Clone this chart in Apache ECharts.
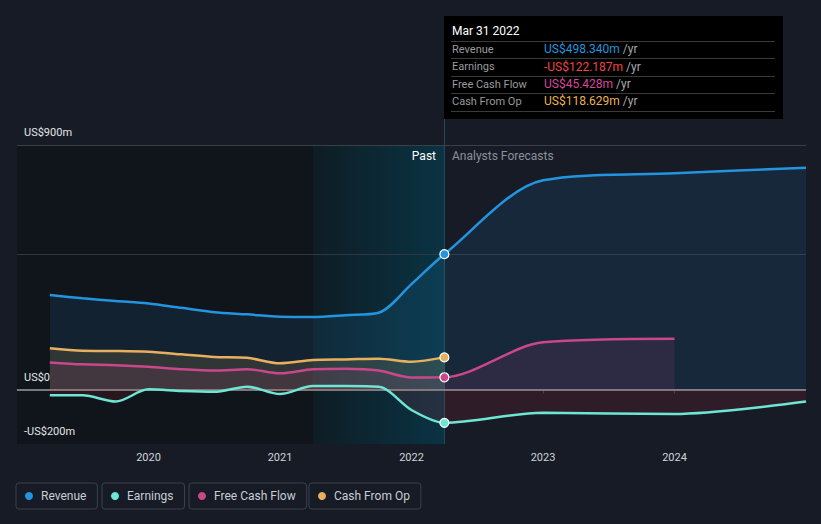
<!DOCTYPE html>
<html><head><meta charset="utf-8">
<script src="https://cdn.jsdelivr.net/npm/echarts@6/dist/echarts.min.js"></script>
<style>html,body{margin:0;padding:0;background:#161b26;}#c{width:821px;height:524px;}</style>
</head><body><div id="c"></div>
<script>
// ---- data (US$ millions, x in decimal years) ----
const pastDates      = [2019.25, 2019.5, 2019.75, 2020.0, 2020.25, 2020.5, 2020.75, 2021.0, 2021.25, 2021.5, 2021.75, 2022.0, 2022.25];
const revenuePast    = [348, 336, 326, 317, 301, 285, 277, 268, 267, 274, 283, 388, 498.340];
const earningsPast   = [-21, -21, -44, 1, -5, -8, 11, -16, 13, 13, 11, -75, -122.187];
const fcfPast        = [100, 93, 90, 84, 75, 70, 75, 60, 75, 77, 70, 45, 45.428];
const cfoPast        = [152, 143, 142, 139, 130, 120, 117, 97, 109, 111, 114, 103, 118.629];
const forecastDates     = [2023, 2024, 2025];
const revenueForecast   = [770, 796, 816];
const earningsForecast  = [-85, -90, -44];
const fcfForecastDates  = [2023, 2024];
const fcfForecast       = [174, 187];
const xTicks = [2020, 2021, 2022, 2023, 2024];
const yTicks = [900, 0, -200];
const yTickLabels = ['US$900m', 'US$0', '-US$200m'];
const highlightStart = 2021.25;
const reportDate = 2022.25;
const reportLabel = 'Mar 31 2022';
const seriesNames = ['Revenue', 'Earnings', 'Free Cash Flow', 'Cash From Op'];
const seriesColors = ['#2394df', '#6ee6d4', '#c9478a', '#e8b05e'];
const tooltipValueColors = ['#2394df', '#ef4444', '#d6479b', '#eab353'];

function buildData(pastVals, fDates, fVals, color) {
  const d = pastDates.map((x, i) => {
    const item = { value: [x, pastVals[i]] };
    if (i === pastDates.length - 1) {
      item.symbol = 'circle'; item.symbolSize = 9;
      item.itemStyle = { color: color, borderColor: '#ffffff', borderWidth: 1.2 };
    }
    return item;
  });
  fDates.forEach((x, i) => d.push({ value: [x, fVals[i]] }));
  return d;
}
function fmt(v) {
  const s = 'US$' + Math.abs(v).toFixed(3) + 'm';
  return v < 0 ? '-' + s : s;
}

const chart = echarts.init(document.getElementById('c'), null, { renderer: 'svg' });
const lineBase = (name, color, data, fillColor, z) => ({
  name, type: 'line', data, smooth: 0.3,
  symbol: 'none', showSymbol: true, z,
  lineStyle: { color, width: 2.5 },
  itemStyle: { color },
  areaStyle: { color: fillColor },
  emphasis: { disabled: true }, silent: true
});

const lastIdx = pastDates.length - 1;
const option = {
  backgroundColor: '#161b26',
  animation: false,
  textStyle: { fontFamily: 'Roboto, "Noto Sans", sans-serif' },
  grid: { left: 17, right: 15, top: 145, bottom: 80 },
  xAxis: {
    type: 'value', min: 2019, max: 2025, interval: 1,
    splitLine: { show: false },
    axisLine: { lineStyle: { color: '#3a3f4a', width: 1 } },
    axisTick: { show: true, length: 4, lineStyle: { color: '#3a3f4a' }, customValues: xTicks },
    axisLabel: { color: '#cfd3da', fontSize: 11, margin: 8, customValues: xTicks,
      formatter: v => xTicks.includes(v) ? String(v) : '' }
  },
  yAxis: {
    type: 'value', min: -200, max: 900,
    show: true, axisLine: { show: false }, axisTick: { show: false },
    axisLabel: { show: false }, splitLine: { show: false }
  },
  legend: seriesNames.map((n, i) => ({
    data: [n], left: [16, 102, 189, 309][i], top: 483,
    icon: 'circle', itemWidth: 14, itemHeight: 8,
    padding: [7, 11, 7, 9],
    borderColor: '#3b404b', borderWidth: 1, borderRadius: 3,
    textStyle: { color: '#c9cdd4', fontSize: 12 },
    selectedMode: false
  })),
  series: [
    {
      name: 'bg', type: 'line', data: [], z: 1, silent: true,
      markArea: {
        silent: true, z: 1,
        data: [
          [{ xAxis: 2019, itemStyle: { color: '#10141b' } }, { xAxis: highlightStart }],
          [{ xAxis: highlightStart, itemStyle: { color: {
            type: 'linear', x: 0, y: 0, x2: 1, y2: 0,
            colorStops: [{ offset: 0, color: '#0e1d25' }, { offset: 1, color: '#0a3343' }] } } },
           { xAxis: reportDate }]
        ]
      },
      markLine: {
        silent: true, symbol: ['none', 'none'], z: 1,
        data: [
          { yAxis: yTicks[0], lineStyle: { color: '#3a3f48', width: 1, type: 'solid' },
            label: { show: true, position: 'insideStartTop', formatter: yTickLabels[0], color: '#e3e6ea', fontSize: 11, distance: [7, 7] } },
          { yAxis: revenuePast[lastIdx], lineStyle: { color: '#2f3743', width: 1, type: 'solid' }, label: { show: false } },
          { xAxis: reportDate, lineStyle: { color: '#22495a', width: 1, type: 'solid' }, label: { show: false } }
        ]
      }
    },
    {
      name: 'zero', type: 'line', data: [], z: 2, silent: true,
      markLine: {
        silent: true, symbol: ['none', 'none'], z: 2,
        data: [
          { yAxis: yTicks[1], lineStyle: { color: '#9b9b9b', width: 1.5, type: 'solid' },
            label: { show: true, position: 'insideStartTop', formatter: yTickLabels[1], color: '#e3e6ea', fontSize: 11, distance: [7, 7] } },
          { yAxis: yTicks[2], lineStyle: { color: 'rgba(0,0,0,0)', width: 1 },
            label: { show: true, position: 'insideStartTop', formatter: yTickLabels[2], color: '#e3e6ea', fontSize: 11, distance: [7, 7] } }
        ]
      }
    },
    lineBase('Revenue', seriesColors[0], buildData(revenuePast, forecastDates, revenueForecast, seriesColors[0]), 'rgba(35,148,223,0.16)', 3),
    lineBase('Cash From Op', seriesColors[3], buildData(cfoPast, [], [], seriesColors[3]), 'rgba(232,176,94,0.20)', 4),
    lineBase('Free Cash Flow', seriesColors[2], buildData(fcfPast, fcfForecastDates, fcfForecast, seriesColors[2]), 'rgba(201,71,138,0.17)', 5),
    lineBase('Earnings', seriesColors[1], buildData(earningsPast, forecastDates, earningsForecast, seriesColors[1]), 'rgba(214,50,60,0.18)', 6)
  ]
};
chart.setOption(option);

// info box anchored at the report date
const px = chart.convertToPixel({ xAxisIndex: 0 }, reportDate);
const topPx = chart.convertToPixel({ yAxisIndex: 0 }, 900);
const boxX = Math.round(px), boxY = 16, boxW = 339, boxH = 103;
const pastVals = [revenuePast[lastIdx], earningsPast[lastIdx], fcfPast[lastIdx], cfoPast[lastIdx]];
const rowLabels = ['Revenue', 'Earnings', 'Free Cash Flow', 'Cash From Op'];
const els = [
  { type: 'line', shape: { x1: boxX + 0.5, y1: boxY, x2: boxX + 0.5, y2: topPx }, style: { stroke: '#2a4756', lineWidth: 1 }, z: 10 },
  { type: 'rect', shape: { x: boxX, y: boxY, width: boxW, height: boxH }, style: { fill: '#000000' }, z: 20 },
  { type: 'text', x: boxX + 8, y: 31, style: { text: reportLabel, fill: '#ffffff', fontSize: 12, fontFamily: 'Roboto', verticalAlign: 'middle' }, z: 21 }
];
[41, 58, 76, 93, 111].forEach(y => els.push({ type: 'line', shape: { x1: boxX + 7, y1: y + 0.5, x2: boxX + 331, y2: y + 0.5 }, style: { stroke: '#3a3a3a', lineWidth: 1 }, z: 21 }));
[49, 66.5, 84, 101].forEach((y, i) => {
  els.push({ type: 'text', x: boxX + 8, y: y, style: { text: rowLabels[i], fill: '#9a9a9a', fontSize: 11, fontFamily: 'Roboto', verticalAlign: 'middle' }, z: 21 });
  els.push({ type: 'text', x: boxX + 100, y: y, style: {
    text: '{v|' + fmt(pastVals[i]) + '} {u|/yr}', verticalAlign: 'middle', fontFamily: 'Roboto',
    rich: { v: { fill: tooltipValueColors[i], fontSize: 12, fontFamily: 'Roboto' }, u: { fill: '#a8a8a8', fontSize: 12, fontFamily: 'Roboto' } } }, z: 21 });
});
els.push({ type: 'text', x: boxX - 8, y: 156, style: { text: 'Past', fill: '#ffffff', fontSize: 12, fontFamily: 'Roboto', align: 'right', verticalAlign: 'middle' }, z: 21 });
els.push({ type: 'text', x: boxX + 8, y: 156, style: { text: 'Analysts Forecasts', fill: '#8b9099', fontSize: 12, fontFamily: 'Roboto', align: 'left', verticalAlign: 'middle' }, z: 21 });
chart.setOption({ graphic: { elements: els } });
</script>
</body></html>
